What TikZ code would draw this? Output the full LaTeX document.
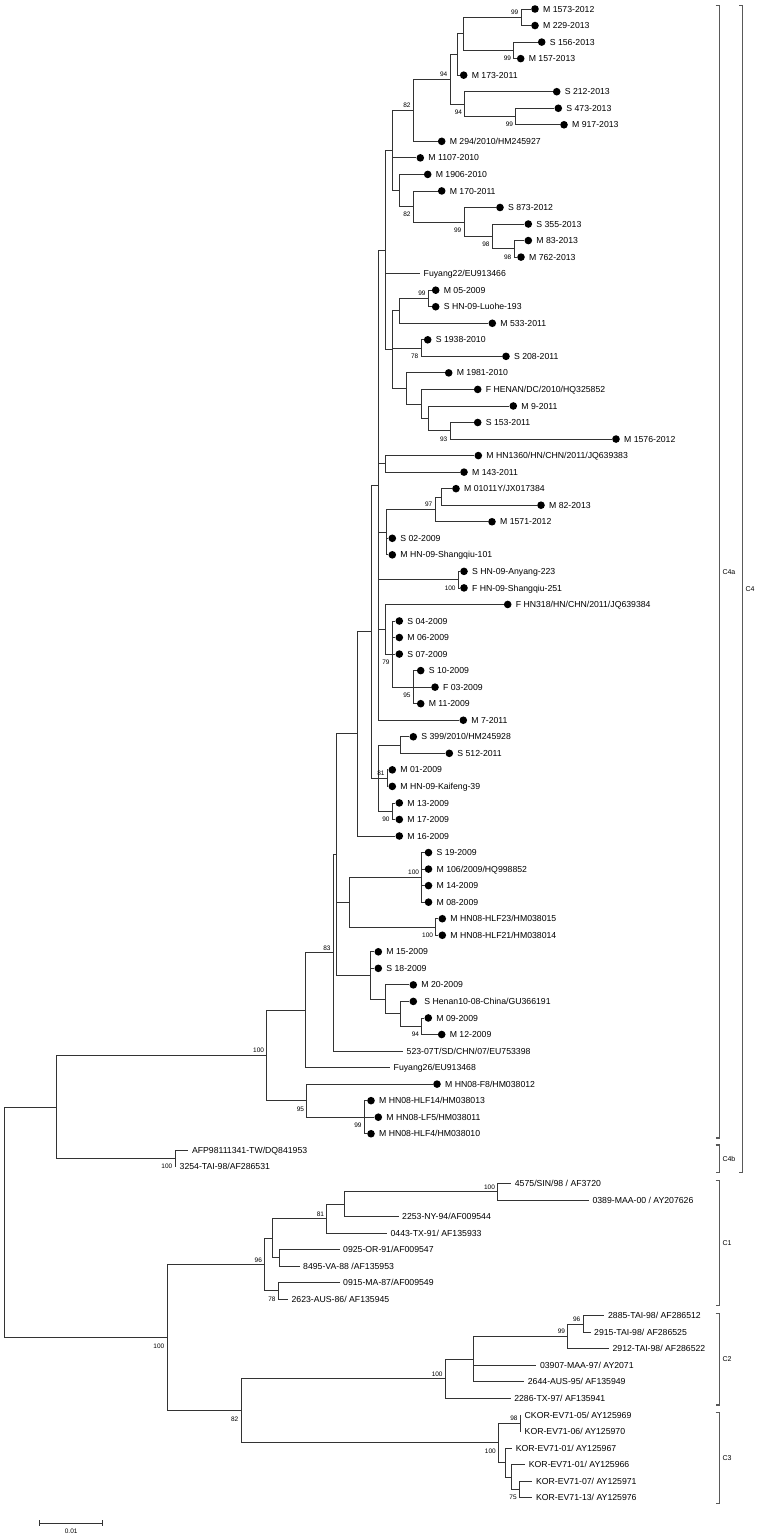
\documentclass[tikz,border=0pt]{standalone}
\usepackage{fontspec}
\setmainfont{Liberation Sans}
\newcommand\dleaf[4]{\node[dot] (#1) at (#2,#3) {}; \node[lab] (#1t) at ([xshift=3.9pt]#1.east) {#4};}
\newcommand\pleaf[4]{\coordinate (#1) at (#2,#3); \node[lab] (#1t) at ([xshift=3.5pt]#1) {#4};}
\newcommand\kids[2]{\foreach \c in {#2}{\draw[br] (#1) |- (\c);}}
\newcommand\bsU[2]{\node[bsu] (#1b) at (#1) {#2};}
\newcommand\bsL[2]{\node[bsl] (#1b) at (#1) {#2};}
\begin{document}
\begin{tikzpicture}[x=1pt,y=-16.54pt,
 br/.style={draw=black!80, line width=0.8pt},
 dot/.style={circle, fill=black, inner sep=0pt, minimum size=7.6pt},
 lab/.style={anchor=west, inner sep=0pt, text height=6.2pt, text depth=0pt, font=\fontsize{8.7}{10}\selectfont},
 bsu/.style={anchor=south east, inner sep=0pt, xshift=-2.5pt, yshift=2.3pt, text height=4.7pt, text depth=0pt, font=\fontsize{6.5}{7}\selectfont},
 bsl/.style={anchor=north east, inner sep=0pt, xshift=-2.5pt, yshift=-5.5pt, text height=4.7pt, text depth=0pt, font=\fontsize{6.5}{7}\selectfont},
 brk/.style={draw=black!65, line width=1.2pt},
 clab/.style={anchor=west, inner sep=0pt, text height=5pt, text depth=0pt, font=\fontsize{7}{8}\selectfont}]
\useasboundingbox (0,-0.5441) rectangle (759,92.563);
% ---- leaves ----
\dleaf{L0}{535}{0}{M 1573-2012}
\dleaf{L1}{535}{1}{M 229-2013}
\dleaf{L2}{541.7}{2}{S 156-2013}
\dleaf{L3}{520.7}{3}{M 157-2013}
\dleaf{L4}{463.7}{4}{M 173-2011}
\dleaf{L5}{556.7}{5}{S 212-2013}
\dleaf{L6}{558.3}{6}{S 473-2013}
\dleaf{L7}{564}{7}{M 917-2013}
\dleaf{L8}{441.7}{8}{M 294/2010/HM245927}
\dleaf{L9}{420.3}{9}{M 1107-2010}
\dleaf{L10}{427.7}{10}{M 1906-2010}
\dleaf{L11}{441.7}{11}{M 170-2011}
\dleaf{L12}{500}{12}{S 873-2012}
\dleaf{L13}{528.3}{13}{S 355-2013}
\dleaf{L14}{528.3}{14}{M 83-2013}
\dleaf{L15}{521}{15}{M 762-2013}
\pleaf{L16}{420}{16}{Fuyang22/EU913466}
\dleaf{L17}{435.7}{17}{M 05-2009}
\dleaf{L18}{435.7}{18}{S HN-09-Luohe-193}
\dleaf{L19}{492.3}{19}{M 533-2011}
\dleaf{L20}{427.7}{20}{S 1938-2010}
\dleaf{L21}{506}{21}{S 208-2011}
\dleaf{L22}{448.7}{22}{M 1981-2010}
\dleaf{L23}{477.7}{23}{F HENAN/DC/2010/HQ325852}
\dleaf{L24}{513.3}{24}{M 9-2011}
\dleaf{L25}{477.7}{25}{S 153-2011}
\dleaf{L26}{616}{26}{M 1576-2012}
\dleaf{L27}{478.3}{27}{M HN1360/HN/CHN/2011/JQ639383}
\dleaf{L28}{464}{28}{M 143-2011}
\dleaf{L29}{456}{29}{M 01011Y/JX017384}
\dleaf{L30}{541}{30}{M 82-2013}
\dleaf{L31}{492}{31}{M 1571-2012}
\dleaf{L32}{392.3}{32}{S 02-2009}
\dleaf{L33}{392.3}{33}{M HN-09-Shangqiu-101}
\dleaf{L34}{464}{34}{S HN-09-Anyang-223}
\dleaf{L35}{464}{35}{F HN-09-Shangqiu-251}
\dleaf{L36}{507.7}{36}{F HN318/HN/CHN/2011/JQ639384}
\dleaf{L37}{399.3}{37}{S 04-2009}
\dleaf{L38}{399.3}{38}{M 06-2009}
\dleaf{L39}{399.3}{39}{S 07-2009}
\dleaf{L40}{420.7}{40}{S 10-2009}
\dleaf{L41}{435}{41}{F 03-2009}
\dleaf{L42}{420.7}{42}{M 11-2009}
\dleaf{L43}{463.3}{43}{M 7-2011}
\dleaf{L44}{413.3}{44}{S 399/2010/HM245928}
\dleaf{L45}{449.3}{45}{S 512-2011}
\dleaf{L46}{392.3}{46}{M 01-2009}
\dleaf{L47}{392.3}{47}{M HN-09-Kaifeng-39}
\dleaf{L48}{399.3}{48}{M 13-2009}
\dleaf{L49}{399.3}{49}{M 17-2009}
\dleaf{L50}{399.3}{50}{M 16-2009}
\dleaf{L51}{428.5}{51}{S 19-2009}
\dleaf{L52}{428.5}{52}{M 106/2009/HQ998852}
\dleaf{L53}{428.5}{53}{M 14-2009}
\dleaf{L54}{428.5}{54}{M 08-2009}
\dleaf{L55}{442.3}{55}{M HN08-HLF23/HM038015}
\dleaf{L56}{442.3}{56}{M HN08-HLF21/HM038014}
\dleaf{L57}{378.3}{57}{M 15-2009}
\dleaf{L58}{378.3}{58}{S 18-2009}
\dleaf{L59}{413.3}{59}{M 20-2009}
\node[dot] (L60) at (413.3,60) {}; \node[lab] (L60t) at ([xshift=6.9pt]L60.east) {S Henan10-08-China/GU366191};
\dleaf{L61}{428.3}{61}{M 09-2009}
\dleaf{L62}{441.7}{62}{M 12-2009}
\pleaf{L63}{403}{63}{523-07T/SD/CHN/07/EU753398}
\pleaf{L64}{390}{64}{Fuyang26/EU913468}
\dleaf{L65}{437}{65}{M HN08-F8/HM038012}
\dleaf{L66}{371}{66}{M HN08-HLF14/HM038013}
\dleaf{L67}{378.3}{67}{M HN08-LF5/HM038011}
\dleaf{L68}{371}{68}{M HN08-HLF4/HM038010}
\pleaf{L69}{188.3}{69}{AFP98111341-TW/DQ841953}
\pleaf{L70}{176}{70}{3254-TAI-98/AF286531}
\pleaf{L71}{511.2}{71}{4575/SIN/98 / AF3720}
\pleaf{L72}{588.8}{72}{0389-MAA-00 / AY207626}
\pleaf{L73}{398.5}{73}{2253-NY-94/AF009544}
\pleaf{L74}{386.9}{74}{0443-TX-91/ AF135933}
\pleaf{L75}{339.5}{75}{0925-OR-91/AF009547}
\pleaf{L76}{299.5}{76}{8495-VA-88 /AF135953}
\pleaf{L77}{339.5}{77}{0915-MA-87/AF009549}
\pleaf{L78}{287.9}{78}{2623-AUS-86/ AF135945}
\pleaf{L79}{604.4}{79}{2885-TAI-98/ AF286512}
\pleaf{L80}{590.5}{80}{2915-TAI-98/ AF286525}
\pleaf{L81}{608.9}{81}{2912-TAI-98/ AF286522}
\pleaf{L82}{536.3}{82}{03907-MAA-97/ AY2071}
\pleaf{L83}{524.2}{83}{2644-AUS-95/ AF135949}
\pleaf{L84}{510.6}{84}{2286-TX-97/ AF135941}
\pleaf{L85}{521}{85}{CKOR-EV71-05/ AY125969}
\pleaf{L86}{521}{86}{KOR-EV71-06/ AY125970}
\pleaf{L87}{512.1}{87}{KOR-EV71-01/ AY125967}
\pleaf{L88}{525.2}{88}{KOR-EV71-01/ AY125966}
\pleaf{L89}{532.4}{89}{KOR-EV71-07/ AY125971}
\pleaf{L90}{532.4}{90}{KOR-EV71-13/ AY125976}
% ---- internal nodes ----
\coordinate (nA) at (521,0.5);
\coordinate (nC) at (513.7,2.5);
\coordinate (nB) at (463.7,1.5);
\coordinate (nD) at (457.3,2.75);
\coordinate (nG) at (515.7,6.5);
\coordinate (nF) at (464.7,5.75);
\coordinate (nE) at (450,4.25);
\coordinate (nH) at (413.3,6.125);
\coordinate (nBV) at (514,14.5);
\coordinate (nBU) at (492.3,13.75);
\coordinate (nLL) at (464,12.875);
\coordinate (nK) at (413.3,11.9375);
\coordinate (nJ) at (399.3,10.96875);
\coordinate (nI) at (392.7,8.546875);
\coordinate (nBW) at (428.3,17.5);
\coordinate (nN) at (399.3,18.25);
\coordinate (nQ) at (421,20.5);
\coordinate (nU) at (450,25.5);
\coordinate (nT) at (428.3,24.75);
\coordinate (nS) at (421.7,23.875);
\coordinate (nR) at (406.7,22.9375);
\coordinate (nP) at (392.7,20.59375);
\coordinate (nM) at (385.7,14.5703);
\coordinate (nV) at (385,27.5);
\coordinate (nY) at (441.7,29.5);
\coordinate (nZ) at (435,30.25);
\coordinate (nAA) at (386,31.625);
\coordinate (nAB) at (458.3,34.5);
\coordinate (nAF) at (413.3,41);
\coordinate (nAD) at (392.3,39);
\coordinate (nAC) at (385,37.5);
\coordinate (nW) at (378.7,28.785);
\coordinate (nAH) at (400,44.5);
\coordinate (nAI) at (387.3,46.5);
\coordinate (nAJ) at (392.3,48.5);
\coordinate (nAG) at (378.3,46.5);
\coordinate (nAK) at (371,37.6425);
\coordinate (nAL) at (357.3,43.821);
\coordinate (nAS) at (421.7,52.5);
\coordinate (nAT) at (435.7,55.5);
\coordinate (nAO) at (349.3,54);
\coordinate (nAW) at (421.7,61.5);
\coordinate (nAV) at (400,60.75);
\coordinate (nAU) at (385.7,59.875);
\coordinate (nAP) at (370.7,58.4375);
\coordinate (nAN) at (336,51.129);
\coordinate (nAQ) at (333.3,57.0645);
\coordinate (nAR) at (305.7,60.532);
\coordinate (nAY) at (364.3,67);
\coordinate (nAX) at (306.7,66);
\coordinate (nAZ) at (266.7,63.266);
\coordinate (nBB) at (175,69.5);
\coordinate (nBA) at (56,66.383);
\coordinate (nBK) at (497.6,71.5);
\coordinate (nBJ) at (344.2,72.25);
\coordinate (nBH) at (326.7,73.125);
\coordinate (nBI) at (279.3,75.5);
\coordinate (nBF) at (272.7,74.3125);
\coordinate (nBG) at (278.2,77.5);
\coordinate (nBD) at (264.6,75.906);
\coordinate (nBO) at (583,79.5);
\coordinate (nBN) at (567.8,80.25);
\coordinate (nBM) at (473.4,81.625);
\coordinate (nBL) at (445.3,82.8125);
\coordinate (nBQ) at (520.3,85.5);
\coordinate (nBT) at (519.4,89.5);
\coordinate (nBS) at (511.6,88.75);
\coordinate (nBR) at (505.8,87.875);
\coordinate (nBP) at (498.5,86.6875);
\coordinate (nBE) at (241,84.75);
\coordinate (nBC) at (167,80.328);
\coordinate (nRoot) at (4.8,73.3555);
% ---- branches ----
\kids{nA}{L0,L1}
\kids{nC}{L2,L3}
\kids{nB}{nA,nC}
\kids{nD}{nB,L4}
\kids{nG}{L6,L7}
\kids{nF}{L5,nG}
\kids{nE}{nD,nF}
\kids{nH}{nE,L8}
\kids{nBV}{L14,L15}
\kids{nBU}{L13,nBV}
\kids{nLL}{L12,nBU}
\kids{nK}{L11,nLL}
\kids{nJ}{L10,nK}
\kids{nI}{nH,L9,nJ}
\kids{nBW}{L17,L18}
\kids{nN}{nBW,L19}
\kids{nQ}{L20,L21}
\kids{nU}{L25,L26}
\kids{nT}{L24,nU}
\kids{nS}{L23,nT}
\kids{nR}{L22,nS}
\kids{nP}{nN,nQ,nR}
\kids{nM}{nI,L16,nP}
\kids{nV}{L27,L28}
\kids{nY}{L29,L30}
\kids{nZ}{nY,L31}
\kids{nAA}{nZ,L32,L33}
\kids{nAB}{L34,L35}
\kids{nAF}{L40,L41,L42}
\kids{nAD}{L37,L38,L39,nAF}
\kids{nAC}{L36,nAD}
\kids{nW}{nM,nV,nAA,nAB,nAC,L43}
\kids{nAH}{L44,L45}
\kids{nAI}{L46,L47}
\kids{nAJ}{L48,L49}
\kids{nAG}{nAH,nAI,nAJ}
\kids{nAK}{nW,nAG}
\kids{nAL}{nAK,L50}
\kids{nAS}{L51,L52,L53,L54}
\kids{nAT}{L55,L56}
\kids{nAO}{nAS,nAT}
\kids{nAW}{L61,L62}
\kids{nAV}{L60,nAW}
\kids{nAU}{L59,nAV}
\kids{nAP}{L57,L58,nAU}
\kids{nAN}{nAL,nAO,nAP}
\kids{nAQ}{nAN,L63}
\kids{nAR}{nAQ,L64}
\kids{nAY}{L66,L67,L68}
\kids{nAX}{L65,nAY}
\kids{nAZ}{nAR,nAX}
\kids{nBB}{L69,L70}
\kids{nBA}{nAZ,nBB}
\kids{nBK}{L71,L72}
\kids{nBJ}{nBK,L73}
\kids{nBH}{nBJ,L74}
\kids{nBI}{L75,L76}
\kids{nBF}{nBH,nBI}
\kids{nBG}{L77,L78}
\kids{nBD}{nBF,nBG}
\kids{nBO}{L79,L80}
\kids{nBN}{nBO,L81}
\kids{nBM}{nBN,L82,L83}
\kids{nBL}{nBM,L84}
\kids{nBQ}{L85,L86}
\kids{nBT}{L89,L90}
\kids{nBS}{L88,nBT}
\kids{nBR}{L87,nBS}
\kids{nBP}{nBQ,nBR}
\kids{nBE}{nBL,nBP}
\kids{nBC}{nBD,nBE}
\kids{nRoot}{nBA,nBC}
% ---- bootstrap values ----
\bsU{nA}{99}
\bsL{nC}{99}
\bsL{nG}{99}
\bsL{nF}{94}
\bsU{nE}{94}
\bsU{nH}{82}
\bsL{nBV}{98}
\bsL{nBU}{98}
\bsL{nLL}{99}
\bsL{nK}{82}
\bsU{nBW}{99}
\bsL{nQ}{78}
\bsL{nU}{93}
\bsU{nZ}{97}
\bsL{nAB}{100}
\bsL{nAF}{95}
\bsL{nAD}{79}
\bsU{nAI}{81}
\bsL{nAJ}{90}
\bsU{nAS}{100}
\bsL{nAT}{100}
\bsL{nAW}{94}
\bsU{nAQ}{83}
\bsL{nAY}{99}
\bsL{nAX}{95}
\bsU{nAZ}{100}
\bsL{nBB}{100}
\bsU{nBK}{100}
\bsU{nBH}{81}
\bsL{nBG}{78}
\bsU{nBD}{96}
\bsU{nBO}{96}
\bsU{nBN}{99}
\bsU{nBL}{100}
\bsU{nBQ}{98}
\bsL{nBT}{75}
\bsL{nBP}{100}
\bsL{nBE}{82}
\bsL{nBC}{100}
% ---- clade brackets ----
\draw[brk] (715.5,-0.224) -- (719.5,-0.224) -- (719.5,68.26) -- (715.5,68.26);
\draw[brk] (715.5,68.68) -- (719.5,68.68) -- (719.5,70.36) -- (715.5,70.36);
\draw[brk] (739,-0.224) -- (742.7,-0.224) -- (742.7,70.36) -- (739,70.36);
\draw[brk] (715.5,70.84) -- (719.5,70.84) -- (719.5,78.40) -- (715.5,78.40);
\draw[brk] (715.5,78.86) -- (719.5,78.86) -- (719.5,84.40) -- (715.5,84.40);
\draw[brk] (715.5,84.87) -- (719.5,84.87) -- (719.5,90.34) -- (715.5,90.34);
\node[clab] (cC4a) at (722.3,34.02) {C4a};
\node[clab] (cC4b) at (722.3,69.52) {C4b};
\node[clab] (cC4) at (745.3,35.07) {C4};
\node[clab] (cC1) at (722.3,74.62) {C1};
\node[clab] (cC2) at (722.3,81.63) {C2};
\node[clab] (cC3) at (722.3,87.6) {C3};
% ---- scale bar ----
\coordinate (sb1) at (39.7,91.55);
\coordinate (sb2) at (102.6,91.55);
\draw[br] (sb1) -- (sb2);
\draw[br] ([yshift=3pt]sb1) -- ([yshift=-3pt]sb1);
\draw[br] ([yshift=3pt]sb2) -- ([yshift=-3pt]sb2);
\node[inner sep=0pt, font=\fontsize{6.5}{7}\selectfont] (sbl) at (71.2,92.06) {0.01};
\end{tikzpicture}
\end{document}
